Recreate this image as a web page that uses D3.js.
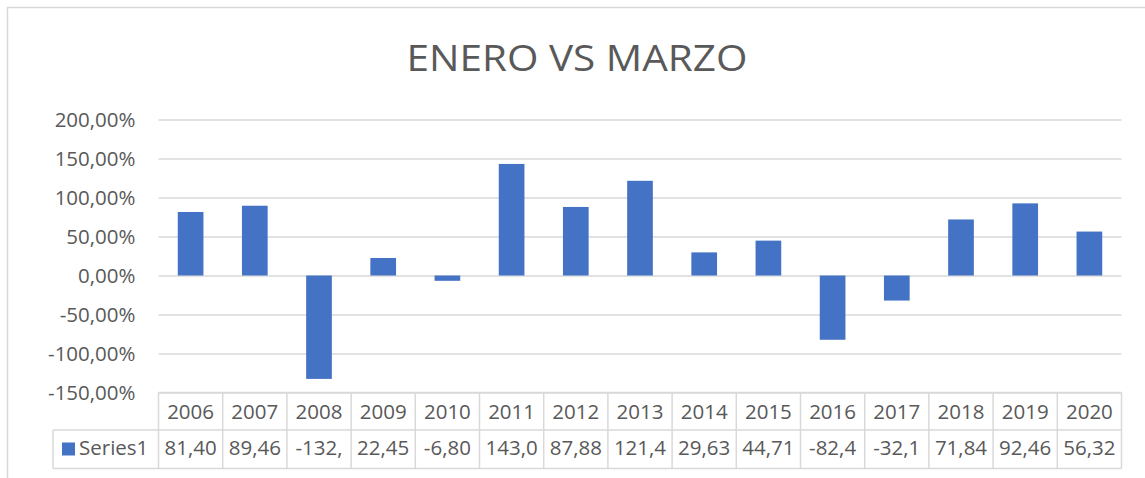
<!DOCTYPE html>
<html>
<head>
<meta charset="utf-8">
<script src="https://cdn.jsdelivr.net/npm/d3@7"></script>
<style>
  body { margin: 0; background: #fff; }
  svg text { font-family: "Open Sans", sans-serif; fill: #595959; }
</style>
</head>
<body>
<div id="chart"></div>
<script>
// Data
var years = ["2006", "2007", "2008", "2009", "2010", "2011", "2012", "2013", "2014", "2015", "2016", "2017", "2018", "2019", "2020"];
var series1 = [81.40, 89.46, -132.56, 22.45, -6.80, 143.05, 87.88, 121.42, 29.63, 44.71, -82.41, -32.13, 71.84, 92.46, 56.32];
var yTicks = [-150, -100, -50, 0, 50, 100, 150, 200];
var seriesName = "Series1";
var title = "ENERO VS MARZO";

// Parameters
var width = 1145;
var height = 478;
var plotLeft = 158.5;
var plotRight = 1121.5;
var plotTop = 119.5;
var plotBottom = 392.5;
var row1Bottom = 430;
var row2Bottom = 468.5;
var legendLeft = 53;
var textColor = "#595959";
var gridColor = "#D9D9D9";
var barColor = "#4472C4";

var es = d3.formatLocale({decimal: ",", thousands: ".", grouping: [3], currency: ["", "€"], minus: "-"});
var fmt2 = es.format(".2f");

var svg = d3.select("#chart").append("svg")
    .attr("width", width)
    .attr("height", height);

// chart frame
svg.append("rect")
    .attr("x", 7.5).attr("y", 7.5)
    .attr("width", 1140).attr("height", 490)
    .attr("fill", "#fff")
    .attr("stroke", gridColor)
    .attr("stroke-width", 1.5);

svg.append("text")
    .attr("x", 577).attr("y", 71)
    .attr("text-anchor", "middle")
    .attr("textLength", 341)
    .attr("lengthAdjust", "spacingAndGlyphs")
    .style("font-size", "37px")
    .text(title);

// Scales
var xScale = d3.scaleBand().domain(years).range([plotLeft, plotRight]).paddingInner(0).paddingOuter(0);
var yScale = d3.scaleLinear().domain([-150, 200]).range([plotBottom, plotTop]);

// Y axis with gridlines
var yAxis = d3.axisLeft(yScale)
    .tickValues(yTicks)
    .tickSizeInner(-(plotRight - plotLeft))
    .tickSizeOuter(0)
    .tickPadding(23)
    .tickFormat(function(d){ return fmt2(d) + "%"; });

var yG = svg.append("g")
    .attr("transform", "translate(" + plotLeft + ",0)")
    .call(yAxis);
yG.select(".domain").remove();
yG.selectAll(".tick line").attr("stroke", gridColor).attr("stroke-width", 1.5);
yG.selectAll(".tick text")
    .attr("fill", textColor)
    .style("font-size", "20.5px")
    .style("font-family", "'Open Sans', sans-serif");

// Bars
var barW = xScale.bandwidth() / 2.5;
svg.append("g").selectAll("rect")
    .data(series1)
    .enter().append("rect")
    .attr("x", function(d, i){ return xScale(years[i]) + (xScale.bandwidth() - barW) / 2; })
    .attr("y", function(d){ return yScale(Math.max(0, d)); })
    .attr("width", barW)
    .attr("height", function(d){ return Math.abs(yScale(d) - yScale(0)); })
    .attr("fill", barColor);

// Data table
var table = svg.append("g");
var lineAttr = function(sel){ sel.attr("stroke", gridColor).attr("stroke-width", 1.5); };

table.append("line").attr("x1", plotLeft).attr("x2", plotRight).attr("y1", plotBottom).attr("y2", plotBottom).call(lineAttr);
table.append("line").attr("x1", legendLeft).attr("x2", plotRight).attr("y1", row1Bottom).attr("y2", row1Bottom).call(lineAttr);
table.append("line").attr("x1", legendLeft).attr("x2", plotRight).attr("y1", row2Bottom).attr("y2", row2Bottom).call(lineAttr);
table.append("line").attr("x1", legendLeft).attr("x2", legendLeft).attr("y1", row1Bottom).attr("y2", row2Bottom).call(lineAttr);

var edges = years.map(function(y){ return xScale(y); }).concat([plotRight]);
table.selectAll(".vline").data(edges).enter().append("line")
    .attr("class", "vline")
    .attr("x1", function(d){ return d; }).attr("x2", function(d){ return d; })
    .attr("y1", plotBottom).attr("y2", row2Bottom)
    .call(lineAttr);

table.selectAll(".yearText").data(years).enter().append("text")
    .attr("class", "yearText")
    .attr("x", function(d){ return xScale(d) + xScale.bandwidth() / 2; })
    .attr("y", 419)
    .attr("text-anchor", "middle")
    .style("font-size", "20.5px")
    .text(function(d){ return d; });

// Excel clips the cell text, keep the first 5 characters
table.selectAll(".valText").data(series1).enter().append("text")
    .attr("class", "valText")
    .attr("x", function(d, i){ return xScale(years[i]) + xScale.bandwidth() / 2; })
    .attr("y", 455)
    .attr("text-anchor", "middle")
    .style("font-size", "20.5px")
    .text(function(d){ return fmt2(d).slice(0, 5); });

// Legend key
table.append("rect")
    .attr("x", 62).attr("y", 442.5)
    .attr("width", 13).attr("height", 13)
    .attr("fill", barColor);
table.append("text")
    .attr("x", 79).attr("y", 455)
    .style("font-size", "20.5px")
    .text(seriesName);
</script>
</body>
</html>
